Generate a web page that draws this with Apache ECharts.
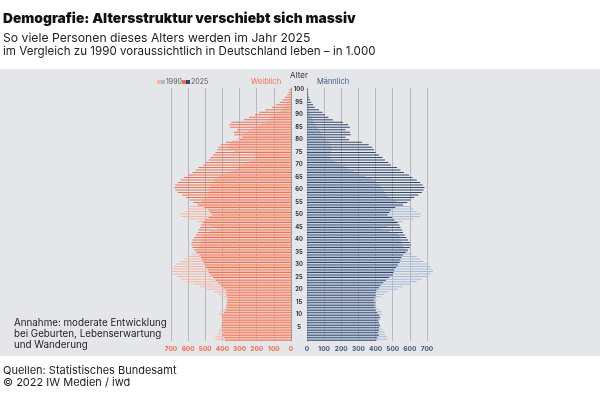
<!DOCTYPE html>
<html>
<head>
<meta charset="utf-8">
<script src="https://cdn.jsdelivr.net/npm/echarts@6/dist/echarts.min.js"></script>
<style>
html, body { margin: 0; padding: 0; background: #fff; }
#chart { width: 600px; height: 398px; }
</style>
</head>
<body>
<div id="chart"></div>
<script>
// ages 0..100
var ages = [];
for (var a = 0; a <= 100; a++) ages.push(String(a));

// Weiblich, in 1.000
var f1990 = [445, 440, 430, 425, 420, 410, 405, 400, 405, 410,
    420, 415, 400, 385, 375, 380, 385, 405, 425, 450,
    500, 530, 570, 610, 640, 665, 685, 695, 690, 680,
    665, 645, 625, 605, 580, 560, 545, 535, 530, 525,
    525, 520, 510, 470, 430, 460, 505, 545, 600, 640,
    645, 620, 600, 585, 550, 520, 505, 490, 485, 480,
    475, 470, 465, 455, 445, 420, 390, 350, 320, 300,
    280, 245, 215, 205, 215, 330, 360, 370, 360, 345,
    320, 300, 275, 250, 225, 195, 170, 145, 120, 100,
    80, 62, 48, 36, 26, 18, 12, 8, 5, 3, 2];
var f2025 = [385, 390, 400, 395, 400, 400, 405, 400, 395, 400,
    400, 390, 380, 375, 375, 375, 370, 372, 375, 378,
    380, 395, 410, 425, 440, 455, 470, 480, 485, 495,
    500, 510, 520, 525, 535, 550, 565, 575, 580, 580,
    575, 565, 555, 545, 540, 530, 525, 515, 500, 480,
    460, 470, 480, 505, 545, 570, 590, 610, 635, 660,
    675, 680, 675, 660, 645, 625, 600, 575, 555, 540,
    510, 495, 480, 470, 455, 440, 430, 425, 410, 380,
    300, 285, 330, 335, 315, 355, 360, 350, 275, 245,
    210, 185, 150, 110, 85, 65, 48, 35, 22, 14, 10];

// Männlich, in 1.000
var m1990 = [470, 465, 455, 450, 440, 430, 425, 420, 425, 430,
    440, 435, 420, 405, 395, 400, 405, 430, 450, 475,
    530, 560, 600, 640, 670, 700, 720, 735, 730, 720,
    700, 680, 660, 640, 610, 590, 575, 560, 555, 550,
    545, 540, 530, 480, 440, 470, 520, 560, 620, 660,
    665, 640, 620, 600, 560, 520, 500, 470, 460, 450,
    440, 430, 420, 400, 380, 340, 300, 270, 240, 220,
    190, 160, 140, 130, 135, 140, 145, 140, 130, 120,
    110, 95, 85, 75, 65, 55, 45, 38, 30, 24,
    18, 14, 10, 8, 6, 4, 3, 2, 1, 1, 1];
var m2025 = [405, 410, 420, 415, 420, 420, 425, 420, 415, 425,
    420, 410, 400, 395, 395, 395, 390, 395, 400, 400,
    405, 420, 430, 445, 460, 480, 500, 505, 510, 520,
    530, 540, 545, 550, 560, 575, 590, 600, 605, 600,
    590, 580, 570, 560, 555, 545, 540, 530, 510, 495,
    470, 480, 490, 515, 560, 585, 605, 625, 650, 670,
    680, 685, 675, 660, 640, 615, 595, 565, 545, 525,
    490, 475, 455, 440, 420, 400, 390, 380, 360, 320,
    245, 225, 255, 250, 225, 250, 240, 210, 150, 125,
    105, 90, 70, 45, 35, 25, 18, 12, 8, 5, 5];

var chart = echarts.init(document.getElementById('chart'));

var fontMain = 'Inter, "Noto Sans", sans-serif';
var showAge = function (idx) { return idx % 5 === 0 && idx !== 0; };

function txt(x, y, s, size, weight, color, align) {
    return {
        type: 'text', x: x, y: y, z: 10,
        style: {
            text: s, fontSize: size, fontWeight: weight || 'normal',
            fontFamily: fontMain, fill: color || '#1a1a1a',
            align: align || 'left', verticalAlign: 'middle'
        }
    };
}

var option = {
    animation: false,
    backgroundColor: '#ffffff',
    textStyle: { fontFamily: fontMain },
    graphic: [
        { type: 'rect', z: -10, shape: { x: 0, y: 69, width: 600, height: 287 }, style: { fill: '#e5e6ea' } },
        txt(3, 19, 'Demografie: Altersstruktur verschiebt sich massiv', 13.8, 900, '#111'),
        txt(3, 38, 'So viele Personen dieses Alters werden im Jahr 2025', 12.2, 'normal', '#222'),
        txt(3, 52, 'im Vergleich zu 1990 voraussichtlich in Deutschland leben \u2013 in 1.000', 11.6, 'normal', '#222'),
        // legend
        { type: 'rect', z: 10, shape: { x: 157, y: 80, width: 4, height: 4 }, style: { fill: '#f6b7a4' } },
        { type: 'rect', z: 10, shape: { x: 161, y: 80, width: 4, height: 4 }, style: { fill: '#a9bcd6' } },
        txt(166, 82, '1990', 7, 'normal', '#555'),
        { type: 'rect', z: 10, shape: { x: 182, y: 80, width: 4, height: 4 }, style: { fill: '#f1704f' } },
        { type: 'rect', z: 10, shape: { x: 186, y: 80, width: 4, height: 4 }, style: { fill: '#34496a' } },
        txt(191, 82, '2025', 7, 'normal', '#555'),
        txt(266, 82, 'Weiblich', 7.5, 'normal', '#f1704f', 'center'),
        txt(333, 82, 'M\u00e4nnlich', 7.5, 'normal', '#3f5a80', 'center'),
        txt(299, 76, 'Alter', 8, 'normal', '#333', 'center'),
        // note
        txt(14, 323, 'Annahme: moderate Entwicklung', 9.8, 'normal', '#222'),
        txt(14, 334, 'bei Geburten, Lebenserwartung', 9.8, 'normal', '#222'),
        txt(14, 345, 'und Wanderung', 9.8, 'normal', '#222'),
        // footer
        txt(3, 371, 'Quellen: Statistisches Bundesamt', 11, 'normal', '#222'),
        txt(3, 383, '\u00a9 2022 IW Medien / iwd', 11, 'normal', '#222')
    ],
    grid: [
        { left: 171, width: 120, top: 88, height: 253 },
        { left: 307, width: 120, top: 88, height: 253 }
    ],
    xAxis: [{
        gridIndex: 0, type: 'value', inverse: true, min: 0, max: 700, interval: 100,
        axisLine: { show: false }, axisTick: { show: false },
        axisLabel: { color: '#f06a4a', fontSize: 6.5, fontWeight: 'bold', margin: 5 },
        splitLine: { lineStyle: { color: '#b8b9bd', width: 1 } }
    }, {
        gridIndex: 1, type: 'value', min: 0, max: 700, interval: 100,
        axisLine: { show: false }, axisTick: { show: false },
        axisLabel: { color: '#3b5576', fontSize: 6.5, fontWeight: 'bold', margin: 5 },
        splitLine: { lineStyle: { color: '#b8b9bd', width: 1 } }
    }],
    yAxis: [{
        gridIndex: 0, type: 'category', data: ages, position: 'right',
        axisLine: { lineStyle: { color: '#9a9a9a', width: 1 } },
        axisTick: { interval: showAge, alignWithLabel: true, length: 2, lineStyle: { color: '#777' } },
        axisLabel: { interval: showAge, align: 'center', margin: 8, fontSize: 5.8, fontWeight: 'bold', color: '#333' }
    }, {
        gridIndex: 1, type: 'category', data: ages, position: 'left',
        axisLine: { lineStyle: { color: '#9a9a9a', width: 1 } },
        axisTick: { interval: showAge, alignWithLabel: true, length: 2, lineStyle: { color: '#777' } },
        axisLabel: { show: false }
    }],
    series: [
        { name: '1990 Weiblich', type: 'bar', xAxisIndex: 0, yAxisIndex: 0, data: f1990, color: '#f6b7a4',
          barGap: '0%', barCategoryGap: '22%', clip: false, silent: true },
        { name: '2025 Weiblich', type: 'bar', xAxisIndex: 0, yAxisIndex: 0, data: f2025, color: '#f1704f',
          barGap: '0%', barCategoryGap: '22%', clip: false, silent: true },
        { name: '1990 M\u00e4nnlich', type: 'bar', xAxisIndex: 1, yAxisIndex: 1, data: m1990, color: '#a9bcd6',
          barGap: '0%', barCategoryGap: '22%', clip: false, silent: true },
        { name: '2025 M\u00e4nnlich', type: 'bar', xAxisIndex: 1, yAxisIndex: 1, data: m2025, color: '#34496a',
          barGap: '0%', barCategoryGap: '22%', clip: false, silent: true }
    ]
};
chart.setOption(option);
</script>
</body>
</html>
